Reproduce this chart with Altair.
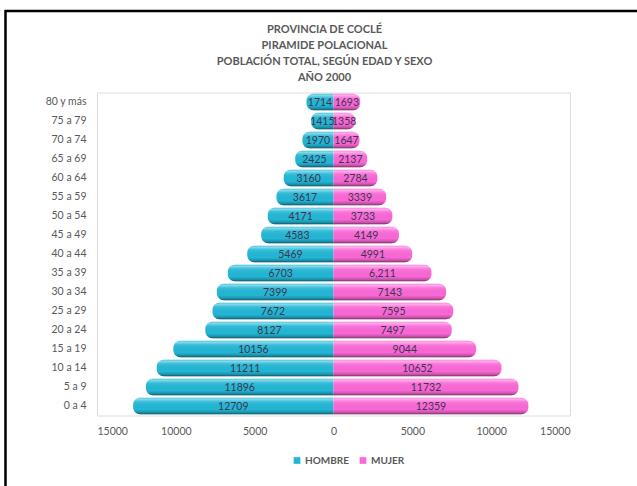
import altair as alt
import pandas as pd

edades = ["80 y más", "75 a 79", "70 a 74", "65 a 69", "60 a 64", "55 a 59", "50 a 54",
          "45 a 49", "40 a 44", "35 a 39", "30 a 34", "25 a 29", "20 a 24", "15 a 19",
          "10 a 14", "5 a 9", "0 a 4"]
hombre = [1714, 1415, 1970, 2425, 3160, 3617, 4171, 4583, 5469, 6703, 7399, 7672, 8127,
          10156, 11211, 11896, 12709]
mujer = [1693, 1358, 1647, 2137, 2784, 3339, 3733, 4149, 4991, 6211, 7143, 7595, 7497,
         9044, 10652, 11732, 12359]
etiquetas_hombre = ["1714", "1415", "1970", "2425", "3160", "3617", "4171", "4583", "5469",
                    "6703", "7399", "7672", "8127", "10156", "11211", "11896", "12709"]
etiquetas_mujer = ["1693", "1358", "1647", "2137", "2784", "3339", "3733", "4149", "4991",
                   "6,211", "7143", "7595", "7497", "9044", "10652", "11732", "12359"]
sexos = ["HOMBRE", "MUJER"]
colores = ["#22b7d6", "#fb68d7"]
ticks_x = [-15000, -10000, -5000, 0, 5000, 10000, 15000]

rows = []
for e, h, m, lh, lm in zip(edades, hombre, mujer, etiquetas_hombre, etiquetas_mujer):
    rows.append({"edad": e, "sexo": "HOMBRE", "a": -h, "b": 0, "mid": -h / 2, "label": lh})
    rows.append({"edad": e, "sexo": "MUJER", "a": 0, "b": m, "mid": m / 2, "label": lm})
df = pd.DataFrame(rows)

FONT = "Lato"
TXT = "#595959"

y_enc = alt.Y("edad:N", sort=edades, title=None,
              scale=alt.Scale(paddingInner=0.12, paddingOuter=0.06),
              axis=alt.Axis(domain=False, ticks=False, labelPadding=11, labelFontSize=10.5,
                            labelColor=TXT, labelFont=FONT))
x_enc = alt.X("a:Q", title=None,
              scale=alt.Scale(domain=[-15000, 15000], nice=False),
              axis=alt.Axis(values=ticks_x, labelExpr="toString(abs(datum.value))",
                            grid=False, domain=False, ticks=False, labelPadding=11,
                            labelFontSize=10.5, labelColor=TXT, labelFont=FONT))
color_enc = alt.Color("sexo:N", scale=alt.Scale(domain=sexos, range=colores),
                      legend=alt.Legend(title=None, orient="none", direction="horizontal",
                                        legendX=195, legendY=363, symbolType="square",
                                        symbolSize=45, symbolStrokeWidth=0,
                                        labelFontSize=10, labelColor=TXT, labelFont=FONT,
                                        labelFontWeight="bold", columnPadding=8,
                                        symbolOffset=0, labelOffset=3))

gloss = alt.Gradient(
    gradient="linear", x1=0, x2=0, y1=0, y2=1,
    stops=[alt.GradientStop(offset=0, color="rgba(255,255,255,0.0)"),
           alt.GradientStop(offset=0.08, color="rgba(255,255,255,0.5)"),
           alt.GradientStop(offset=0.25, color="rgba(255,255,255,0.1)"),
           alt.GradientStop(offset=0.7, color="rgba(0,0,0,0.0)"),
           alt.GradientStop(offset=0.88, color="rgba(0,0,0,0.2)"),
           alt.GradientStop(offset=1, color="rgba(0,0,0,0.55)")])

base = alt.Chart(df)
bars_h = base.transform_filter(alt.datum.sexo == "HOMBRE").mark_bar(
    cornerRadiusTopLeft=7, cornerRadiusBottomLeft=7).encode(
    y=y_enc, x=x_enc, x2="b:Q", color=color_enc)
bars_m = base.transform_filter(alt.datum.sexo == "MUJER").mark_bar(
    cornerRadiusTopRight=7, cornerRadiusBottomRight=7).encode(
    y=y_enc, x=x_enc, x2="b:Q", color=color_enc)
gloss_h = base.transform_filter(alt.datum.sexo == "HOMBRE").mark_bar(
    cornerRadiusTopLeft=7, cornerRadiusBottomLeft=7, fill=gloss).encode(
    y=y_enc, x=x_enc, x2="b:Q")
gloss_m = base.transform_filter(alt.datum.sexo == "MUJER").mark_bar(
    cornerRadiusTopRight=7, cornerRadiusBottomRight=7, fill=gloss).encode(
    y=y_enc, x=x_enc, x2="b:Q")
labels = base.mark_text(font=FONT, fontSize=10.5, color="#3d3550", baseline="middle",
                        align="center", dy=1).encode(
    y=y_enc, x=alt.X("mid:Q"), text="label:N")

border_top = alt.Chart(pd.DataFrame({"k": [0]})).mark_rule(
    color="black", strokeWidth=2.5, clip=False).encode(
    x=alt.value(-92), x2=alt.value(560), y=alt.value(-81.5))
border_left = alt.Chart(pd.DataFrame({"k": [0]})).mark_rule(
    color="black", strokeWidth=2.5, clip=False).encode(
    x=alt.value(-91.5), y=alt.value(-82.5), y2=alt.value(400))

chart = alt.layer(bars_h, bars_m, gloss_h, gloss_m, labels, border_top, border_left).properties(
    width=473, height=323,
    title=alt.TitleParams(
        text=["PROVINCIA DE COCLÉ", "PIRAMIDE POLACIONAL",
              "POBLACIÓN TOTAL, SEGÚN EDAD Y SEXO", "AÑO 2000"],
        anchor="middle", font=FONT, fontSize=11, fontWeight="bold", color=TXT,
        lineHeight=16, offset=-74, dx=-9),
    autosize=alt.AutoSizeParams(type="none"),
    padding={"left": 97, "top": 92.5, "right": 67, "bottom": 70.5},
).configure_view(stroke=None).configure(background="white")

chart.save("out.html", embed_options={"renderer": "svg", "actions": False})
